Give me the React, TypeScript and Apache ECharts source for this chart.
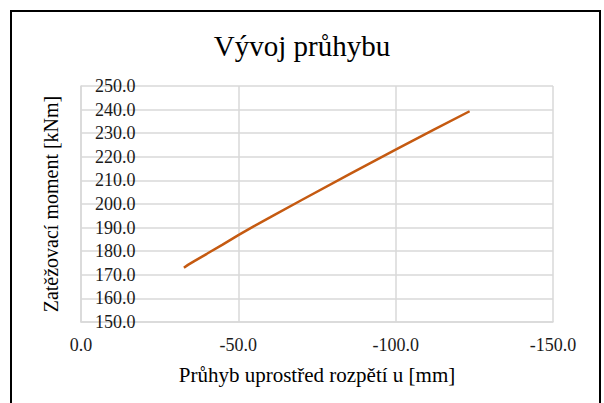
import React, { useEffect, useRef } from "react";
import * as echarts from "echarts";

const deflection = [-32.7, -34.0, -36.0, -40.0, -45.0, -50.0, -55.0, -60.2, -70.0, -85.5, -100.0, -112.0, -123.5];
const moment = [173.0, 174.2, 175.8, 178.9, 182.8, 186.8, 190.6, 194.4, 201.6, 212.8, 223.0, 231.4, 239.3];

const titleText = "Vývoj průhybu";
const xName = "Průhyb uprostřed rozpětí u [mm]";
const yName = "Zatěžovací moment [kNm]";

const FONT = "Liberation Serif";

export default function App() {
  const ref = useRef<HTMLDivElement>(null);
  useEffect(() => {
    if (!ref.current) return;
    const chart = echarts.init(ref.current, undefined, { renderer: "svg" });
    const data = deflection.map((x, i) => [x, moment[i]]);
    chart.setOption({
      animation: false,
      backgroundColor: "#fff",
      title: {
        text: titleText,
        left: "center",
        top: 26,
        textStyle: { fontFamily: FONT, fontSize: 29, fontWeight: "normal", color: "#000" },
      },
      graphic: [
        {
          type: "rect",
          shape: { x: 11, y: 11, width: 589, height: 400 },
          style: { fill: "none", stroke: "#000", lineWidth: 2 },
          silent: true,
        },
      ],
      grid: { left: 81, right: 51, top: 86, bottom: 81 },
      xAxis: {
        type: "value",
        min: -150,
        max: 0,
        interval: 50,
        inverse: true,
        name: xName,
        nameLocation: "middle",
        nameGap: 42,
        nameTextStyle: { fontFamily: FONT, fontSize: 21, color: "#000" },
        axisLine: { show: true, lineStyle: { color: "#d9d9d9", width: 1.5 } },
        axisTick: { show: false },
        axisLabel: {
          fontFamily: FONT,
          fontSize: 18,
          color: "#1a1a1a",
          margin: 14,
          formatter: (v: number) => v.toFixed(1),
        },
        splitLine: { show: true, lineStyle: { color: "#d9d9d9", width: 1.5 } },
      },
      yAxis: {
        type: "value",
        min: 150,
        max: 250,
        interval: 10,
        name: yName,
        nameLocation: "middle",
        nameGap: 20,
        nameRotate: 90,
        nameTextStyle: { fontFamily: FONT, fontSize: 20, color: "#000" },
        axisLine: { show: true, lineStyle: { color: "#d9d9d9", width: 1.5 } },
        axisTick: { show: false },
        axisLabel: {
          inside: true,
          fontFamily: FONT,
          fontSize: 18,
          color: "#1a1a1a",
          margin: 14,
          formatter: (v: number) => v.toFixed(1),
        },
        splitLine: { show: true, lineStyle: { color: "#d9d9d9", width: 1.5 } },
      },
      series: [
        {
          type: "line",
          data,
          showSymbol: false,
          smooth: false,
          lineStyle: { color: "#c55a11", width: 2.5 },
          itemStyle: { color: "#c55a11" },
          z: 3,
        },
      ],
    });
    return () => chart.dispose();
  }, []);
  return (
    <div
      ref={ref}
      style={{ position: "fixed", left: 0, top: 0, width: 604, height: 403 }}
    />
  );
}
